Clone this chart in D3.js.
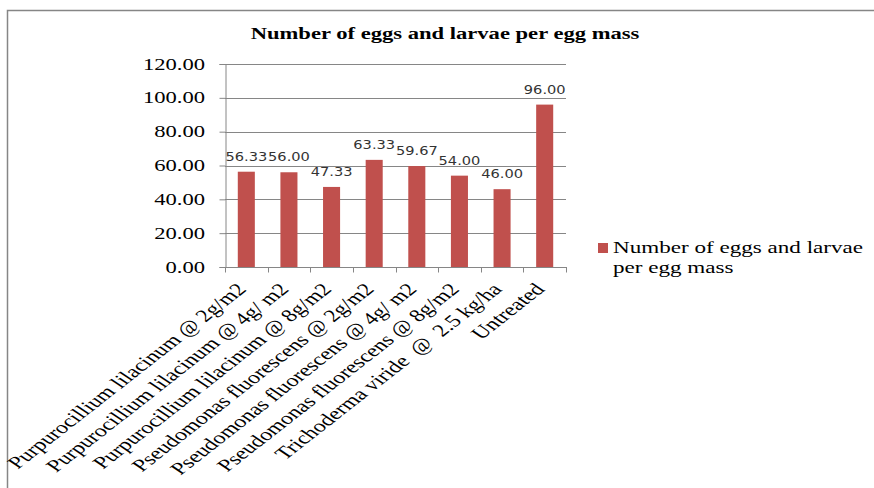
<!DOCTYPE html>
<html>
<head>
<meta charset="utf-8">
<script src="https://cdn.jsdelivr.net/npm/d3@7"></script>
<style>
  html, body { margin: 0; padding: 0; background: #fff; }
  svg { display: block; }
</style>
</head>
<body>
<svg id="chart" width="874" height="488"></svg>
<script>
// Treatments and mean counts
const categories = [
  "Purpurocillium lilacinum @ 2g/m2",
  "Purpurocillium lilacinum @ 4g/ m2",
  "Purpurocillium lilacinum @ 8g/m2",
  "Pseudomonas fluorescens @ 2g/m2",
  "Pseudomonas fluorescens @ 4g/ m2",
  "Pseudomonas fluorescens @ 8g/m2",
  "Trichoderma viride  @  2.5 kg/ha",
  "Untreated"
];
const values = [56.33, 56.00, 47.33, 63.33, 59.67, 54.00, 46.00, 96.00];
const yTicks = [0, 20, 40, 60, 80, 100, 120];
const seriesName = "Number of eggs and larvae per egg mass";
const legendLines = ["Number of eggs and larvae", "per egg mass"];

const svg = d3.select("#chart");
const SX = 1.37;          // horizontal text stretch
const barColor = "#C0504D";
const lineColor = "#868686";
const serif = "'Liberation Serif', 'Times New Roman', serif";

// outer chart frame (open at right and bottom)
svg.append("path")
  .attr("d", "M7.5,488 L7.5,10.5 L874,10.5")
  .attr("fill", "none").attr("stroke", lineColor).attr("stroke-width", 1.5);

const plot = { left: 225, right: 566, top: 64, bottom: 267 };

const x = d3.scaleBand().domain(categories)
  .range([plot.left, plot.right]).paddingInner(0.6).paddingOuter(0.3);
const y = d3.scaleLinear().domain([0, 120]).range([plot.bottom, plot.top]);

function stretched(sel, px, py, k) {
  return sel.attr("x", 0).attr("y", 0)
    .attr("transform", `translate(${px},${py}) scale(${k},1)`);
}

// title
stretched(svg.append("text"), 445, 38.5, SX)
  .attr("text-anchor", "middle")
  .attr("font-family", serif).attr("font-weight", "bold")
  .attr("font-size", 16.5).attr("fill", "#000")
  .text(seriesName);

// gridlines
svg.append("g").selectAll("line").data(yTicks.filter(t => t > 0)).join("line")
  .attr("x1", plot.left).attr("x2", plot.right)
  .attr("y1", d => Math.round(y(d)) + 0.5).attr("y2", d => Math.round(y(d)) + 0.5)
  .attr("stroke", lineColor).attr("stroke-width", 1);

// y axis
const yAxis = svg.append("g")
  .attr("transform", `translate(${plot.left + 0.5},0)`)
  .call(d3.axisLeft(y).tickValues(yTicks).tickSize(6).tickFormat(""));
yAxis.select(".domain").attr("stroke", lineColor);
yAxis.selectAll(".tick line").attr("stroke", lineColor);

svg.append("g").selectAll("text").data(yTicks).join("text")
  .each(function (d) { stretched(d3.select(this), 205, y(d) + 5.5, SX); })
  .attr("text-anchor", "end")
  .attr("font-family", serif).attr("font-size", 16.5).attr("fill", "#000")
  .text(d => d3.format(".2f")(d));

// bars
svg.append("g").selectAll("rect").data(values).join("rect")
  .attr("x", (d, i) => x(categories[i]))
  .attr("width", x.bandwidth())
  .attr("y", d => y(d))
  .attr("height", d => y(0) - y(d))
  .attr("fill", barColor);

// value labels
svg.append("g").selectAll("text").data(values).join("text")
  .each(function (d, i) {
    stretched(d3.select(this), x(categories[i]) + x.bandwidth() / 2, y(d) - 11, 1.27);
  })
  .attr("text-anchor", "middle")
  .attr("font-family", "'DejaVu Sans', Verdana, sans-serif")
  .attr("font-size", 11.5).attr("fill", "#333")
  .text(d => d3.format(".2f")(d));

// x axis line with boundary ticks
const xAxis = svg.append("g").attr("transform", `translate(0,${Math.round(y(0)) + 0.5})`);
xAxis.append("line").attr("x1", plot.left - 2).attr("x2", plot.right + 1)
  .attr("stroke", lineColor);
const step = x.step();
const bounds = d3.range(categories.length + 1).map(i => plot.left + i * step);
xAxis.selectAll("line.tk").data(bounds).join("line").attr("class", "tk")
  .attr("x1", d => Math.round(d) + 0.5).attr("x2", d => Math.round(d) + 0.5)
  .attr("y1", 0).attr("y2", 5).attr("stroke", lineColor);

// rotated category labels
svg.append("g").selectAll("text").data(categories).join("text")
  .attr("transform", d => {
    const cx = x(d) + x.bandwidth() / 2 + 1;
    return `translate(${cx},${plot.bottom + 23}) scale(${SX},1) rotate(-47)`;
  })
  .attr("text-anchor", "end")
  .attr("font-family", serif).attr("font-size", 17.5).attr("fill", "#000")
  .attr("xml:space", "preserve")
  .text(d => d);

// legend
svg.append("rect").attr("x", 598).attr("y", 243).attr("width", 10).attr("height", 10)
  .attr("fill", barColor);
legendLines.forEach((t, i) => {
  stretched(svg.append("text"), 613, 253 + i * 20, 1.32)
    .attr("font-family", serif).attr("font-size", 17.5).attr("fill", "#000")
    .text(t);
});
</script>
</body>
</html>
